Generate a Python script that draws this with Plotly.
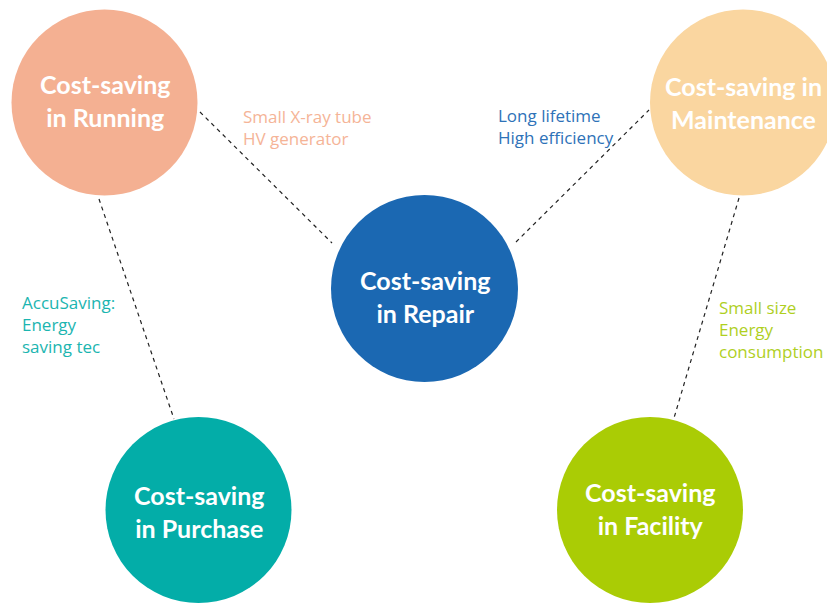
import plotly.graph_objects as go

# ---- data ----
circle_names = ["Running", "Maintenance", "Repair", "Purchase", "Facility"]
circle_labels = ["Cost-saving<br>in Running", "Cost-saving in<br>Maintenance",
                 "Cost-saving<br>in Repair", "Cost-saving<br>in Purchase",
                 "Cost-saving<br>in Facility"]
circle_x = [104.5, 743, 424.5, 198.5, 650]
circle_y = [102.5, 102.5, 288.5, 510, 510]
circle_r = [93, 93, 93.5, 93, 93]
circle_colors = ["#F4B092", "#FAD6A0", "#1B68B2", "#03ADA8", "#AACC05"]
label_y = [100.5, 102, 296.5, 511, 508.5]

# connectors: (x0, y0, x1, y1)
link_x0 = [200, 516, 99, 739]
link_y0 = [112, 242, 199, 198]
link_x1 = [332, 649, 174, 674]
link_y1 = [243, 110, 419, 418]

note_texts = ["Small X-ray tube<br>HV generator", "Long lifetime<br>High efficiency",
              "AccuSaving:<br>Energy<br>saving tec", "Small size<br>Energy<br>consumption"]
note_x = [241, 496, 20, 717]
note_y = [127, 126, 324, 329]
note_colors = ["#F5B497", "#2E72B8", "#1BB5B0", "#AFCF1F"]

W, H = 827, 604

fig = go.Figure()

for i in range(len(link_x0)):
    fig.add_trace(go.Scatter(
        x=[link_x0[i], link_x1[i]], y=[link_y0[i], link_y1[i]],
        mode="lines", line=dict(color="#222222", width=1.2, dash="4px,4px"),
        hoverinfo="skip", showlegend=False))

for i in range(len(circle_names)):
    fig.add_shape(type="circle", xref="x", yref="y",
                  x0=circle_x[i] - circle_r[i], x1=circle_x[i] + circle_r[i],
                  y0=circle_y[i] - circle_r[i], y1=circle_y[i] + circle_r[i],
                  fillcolor=circle_colors[i], line=dict(width=0), layer="above")
    fig.add_annotation(x=circle_x[i], y=label_y[i], text="<b>" + circle_labels[i] + "</b>",
                       showarrow=False, xanchor="center", yanchor="middle",
                       font=dict(family="Lato", size=25, color="white"))

for i in range(len(note_texts)):
    fig.add_annotation(x=note_x[i], y=note_y[i], text=note_texts[i],
                       showarrow=False, xanchor="left", yanchor="middle", align="left",
                       font=dict(family="Open Sans", size=17, color=note_colors[i]))

fig.update_layout(
    width=W, height=H, margin=dict(l=0, r=0, t=0, b=0),
    paper_bgcolor="white", plot_bgcolor="white",
    xaxis=dict(range=[0, W], visible=False, fixedrange=True),
    yaxis=dict(range=[H, 0], visible=False, fixedrange=True),
)

fig.write_html("out.html", config={"displayModeBar": False},
               post_script="document.body.style.margin='0';document.body.style.overflow='hidden';")
